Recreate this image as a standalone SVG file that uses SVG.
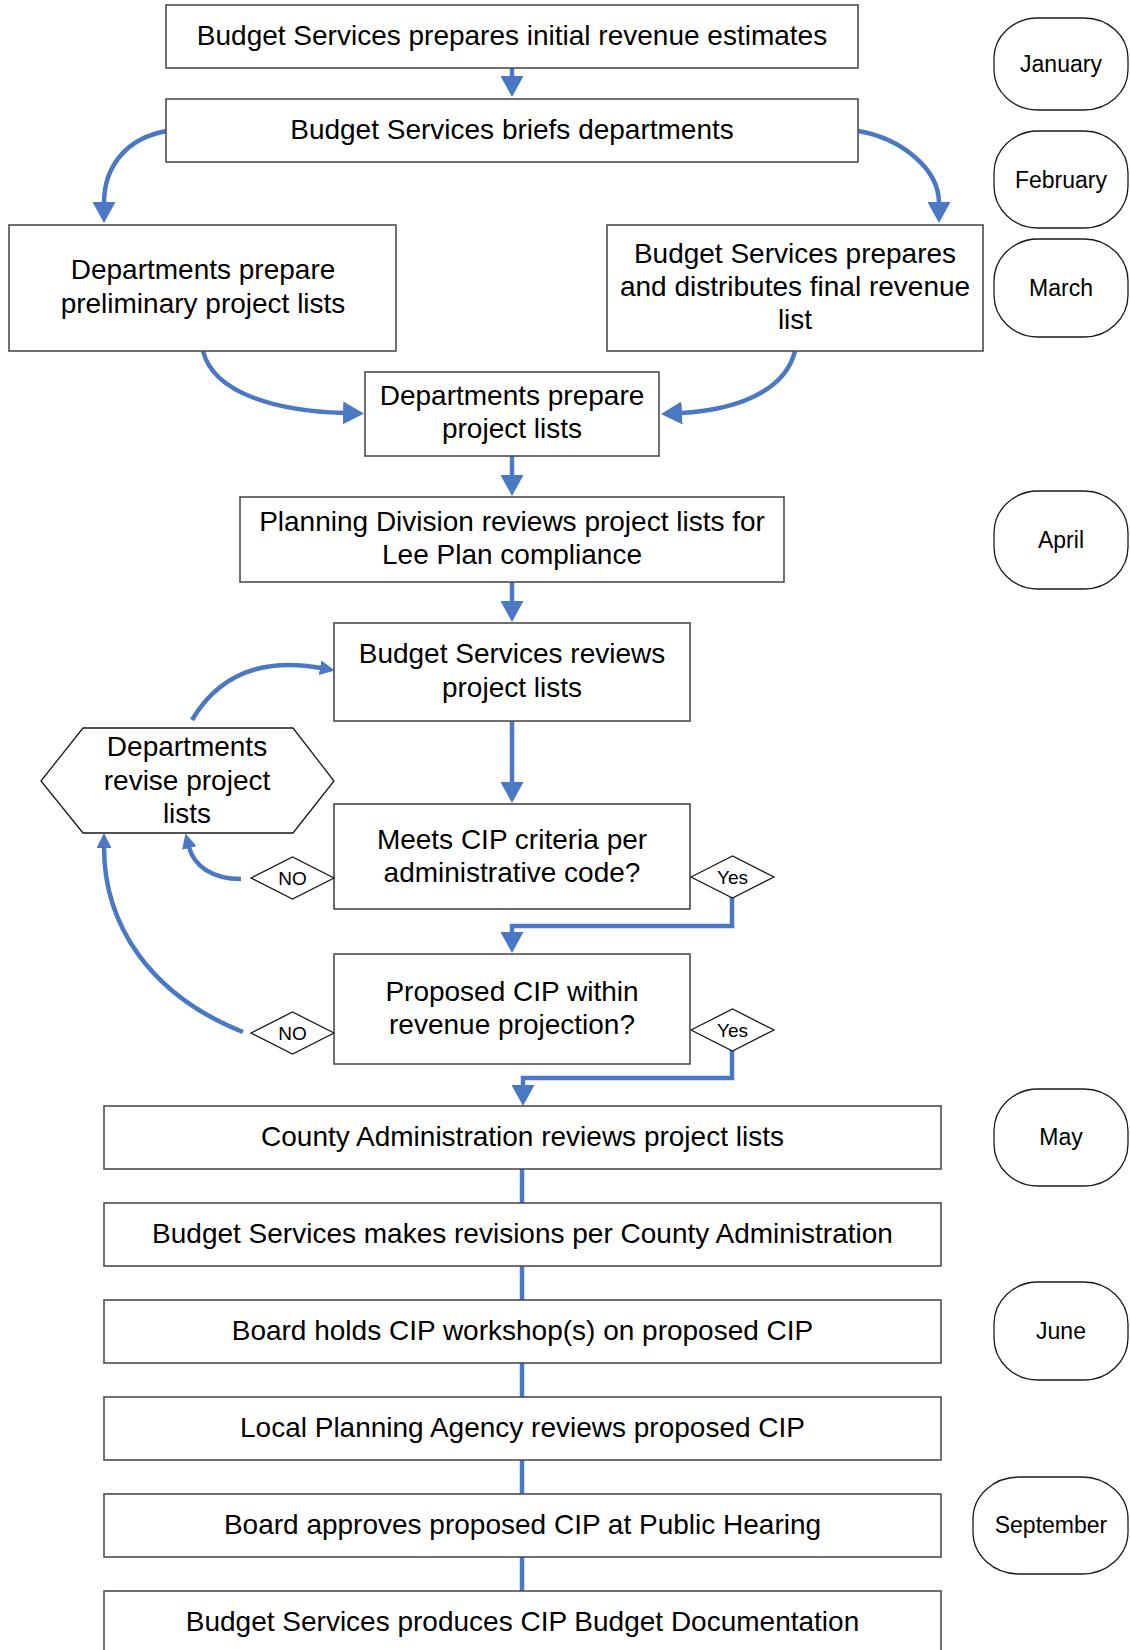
<svg xmlns="http://www.w3.org/2000/svg" width="1130" height="1650" viewBox="0 0 1130 1650">
  <style>
    .box { fill: #fff; stroke: #4d4d4d; stroke-width: 1.6; }
    .shape { fill: #fff; stroke: #1a1a1a; stroke-width: 1.3; }
    .t { font-family: "Liberation Sans", Arial, sans-serif; font-size: 28px; fill: #000; text-anchor: middle; }
    .m { font-family: "Liberation Sans", Arial, sans-serif; font-size: 23px; fill: #000; text-anchor: middle; }
    .s { font-family: "Liberation Sans", Arial, sans-serif; font-size: 19px; fill: #000; text-anchor: middle; }
    .c { fill: none; stroke: #4a78c4; stroke-width: 4.5; }
  </style>
  <defs>
    <marker id="ah" viewBox="0 0 21 23" refX="1" refY="11.5" markerWidth="21" markerHeight="23" markerUnits="userSpaceOnUse" orient="auto">
      <path d="M0,0 L21,11.5 L0,23 Z" fill="#4a78c4"/>
    </marker>
    <marker id="ahs" viewBox="0 0 15 15" refX="1" refY="7.5" markerWidth="15" markerHeight="15" markerUnits="userSpaceOnUse" orient="auto">
      <path d="M0,0 L15,7.5 L0,15 Z" fill="#4a78c4"/>
    </marker>
  </defs>

  <!-- connectors -->
  <g id="connectors">
    <path class="c" d="M512,68 L512,77" marker-end="url(#ah)"/>
    <path class="c" d="M167,131 C125,138 104,168 104,203" marker-end="url(#ah)"/>
    <path class="c" d="M858,131 C900,138 939,168 939,203" marker-end="url(#ah)"/>
    <path class="c" d="M203,351 C214,395 280,411 344,413" marker-end="url(#ah)"/>
    <path class="c" d="M795,351 C785,392 735,410 681,413" marker-end="url(#ah)"/>
    <path class="c" d="M512,456 L512,476" marker-end="url(#ah)"/>
    <path class="c" d="M512,582 L512,602" marker-end="url(#ah)"/>
    <path class="c" d="M512,721 L512,783" marker-end="url(#ah)"/>
    <path class="c" d="M732,897 V926 H512 V933" marker-end="url(#ah)"/>
    <path class="c" d="M732,1050 V1078 H523 V1086" marker-end="url(#ah)"/>
    <path class="c" d="M192,720 Q232,652 321,668" marker-end="url(#ahs)"/>
    <path class="c" d="M241,879 C212,879 194,866 189,847" marker-end="url(#ahs)"/>
    <path class="c" d="M243,1032 C150,995 104,925 104,847" marker-end="url(#ahs)"/>
    <path class="c" d="M522,1169 V1203"/>
    <path class="c" d="M522,1266 V1300"/>
    <path class="c" d="M522,1363 V1397"/>
    <path class="c" d="M522,1460 V1494"/>
    <path class="c" d="M522,1557 V1591"/>
  </g>

  <!-- process steps -->
  <g id="initial-estimates">
    <rect class="box" x="166" y="5" width="692" height="63"/>
    <text class="t" x="512" y="45">Budget Services prepares initial revenue estimates</text>
  </g>
  <g id="briefs">
    <rect class="box" x="166" y="99" width="692" height="63"/>
    <text class="t" x="512" y="139">Budget Services briefs departments</text>
  </g>
  <g id="preliminary-lists">
    <rect class="box" x="9" y="225" width="387" height="126"/>
    <text class="t" x="203" y="279">Departments prepare</text>
    <text class="t" x="203" y="313">preliminary project lists</text>
  </g>
  <g id="final-revenue">
    <rect class="box" x="607" y="225" width="376" height="126"/>
    <text class="t" x="795" y="263">Budget Services prepares</text>
    <text class="t" x="795" y="296">and distributes final revenue</text>
    <text class="t" x="795" y="329">list</text>
  </g>
  <g id="project-lists">
    <rect class="box" x="365" y="372" width="294" height="84"/>
    <text class="t" x="512" y="405">Departments prepare</text>
    <text class="t" x="512" y="438">project lists</text>
  </g>
  <g id="planning-review">
    <rect class="box" x="240" y="497" width="544" height="85"/>
    <text class="t" x="512" y="531">Planning Division reviews project lists for</text>
    <text class="t" x="512" y="564">Lee Plan compliance</text>
  </g>
  <g id="budget-review">
    <rect class="box" x="334" y="623" width="356" height="98"/>
    <text class="t" x="512" y="663">Budget Services reviews</text>
    <text class="t" x="512" y="697">project lists</text>
  </g>
  <g id="revise-lists">
    <polygon class="shape" points="41,781 83,728 293,728 334,781 293,833 83,833"/>
    <text class="t" x="187" y="756">Departments</text>
    <text class="t" x="187" y="790">revise project</text>
    <text class="t" x="187" y="823">lists</text>
  </g>
  <g id="meets-criteria">
    <rect class="shape" x="334" y="804" width="356" height="105"/>
    <text class="t" x="512" y="849">Meets CIP criteria per</text>
    <text class="t" x="512" y="882">administrative code?</text>
  </g>
  <g id="within-projection">
    <rect class="box" x="334" y="954" width="356" height="110"/>
    <text class="t" x="512" y="1001">Proposed CIP within</text>
    <text class="t" x="512" y="1034">revenue projection?</text>
  </g>

  <!-- decision labels -->
  <g id="no-1">
    <polygon class="shape" points="251,878 292.5,857 334,878 292.5,899"/>
    <text class="s" x="292.5" y="884.5">NO</text>
  </g>
  <g id="yes-1">
    <polygon class="shape" points="691,877 732.5,856 774,877 732.5,898"/>
    <text class="s" x="732.5" y="883.5">Yes</text>
  </g>
  <g id="no-2">
    <polygon class="shape" points="251,1033 292.5,1012 334,1033 292.5,1054"/>
    <text class="s" x="292.5" y="1039.5">NO</text>
  </g>
  <g id="yes-2">
    <polygon class="shape" points="691,1030 732.5,1009 774,1030 732.5,1051"/>
    <text class="s" x="732.5" y="1036.5">Yes</text>
  </g>

  <g id="county-review">
    <rect class="box" x="104" y="1106" width="837" height="63"/>
    <text class="t" x="522.5" y="1146">County Administration reviews project lists</text>
  </g>
  <g id="revisions">
    <rect class="box" x="104" y="1203" width="837" height="63"/>
    <text class="t" x="522.5" y="1243">Budget Services makes revisions per County Administration</text>
  </g>
  <g id="workshop">
    <rect class="box" x="104" y="1300" width="837" height="63"/>
    <text class="t" x="522.5" y="1340">Board holds CIP workshop(s) on proposed CIP</text>
  </g>
  <g id="lpa-review">
    <rect class="box" x="104" y="1397" width="837" height="63"/>
    <text class="t" x="522.5" y="1437">Local Planning Agency reviews proposed CIP</text>
  </g>
  <g id="public-hearing">
    <rect class="box" x="104" y="1494" width="837" height="63"/>
    <text class="t" x="522.5" y="1534">Board approves proposed CIP at Public Hearing</text>
  </g>
  <g id="documentation">
    <rect class="box" x="104" y="1591" width="837" height="70"/>
    <text class="t" x="522.5" y="1631">Budget Services produces CIP Budget Documentation</text>
  </g>

  <!-- months -->
  <g id="january">
    <rect class="shape" x="994" y="18" width="134" height="92" rx="44" ry="40"/>
    <text class="m" x="1061" y="72">January</text>
  </g>
  <g id="february">
    <rect class="shape" x="994" y="131" width="134" height="97" rx="44" ry="42"/>
    <text class="m" x="1061" y="188">February</text>
  </g>
  <g id="march">
    <rect class="shape" x="994" y="239" width="134" height="98" rx="44" ry="42"/>
    <text class="m" x="1061" y="296">March</text>
  </g>
  <g id="april">
    <rect class="shape" x="994" y="491" width="134" height="98" rx="44" ry="42"/>
    <text class="m" x="1061" y="548">April</text>
  </g>
  <g id="may">
    <rect class="shape" x="994" y="1089" width="134" height="97" rx="44" ry="42"/>
    <text class="m" x="1061" y="1145">May</text>
  </g>
  <g id="june">
    <rect class="shape" x="994" y="1282" width="134" height="98" rx="44" ry="42"/>
    <text class="m" x="1061" y="1339">June</text>
  </g>
  <g id="september">
    <rect class="shape" x="973" y="1477" width="155" height="97" rx="46" ry="42"/>
    <text class="m" x="1051" y="1533">September</text>
  </g>
</svg>
